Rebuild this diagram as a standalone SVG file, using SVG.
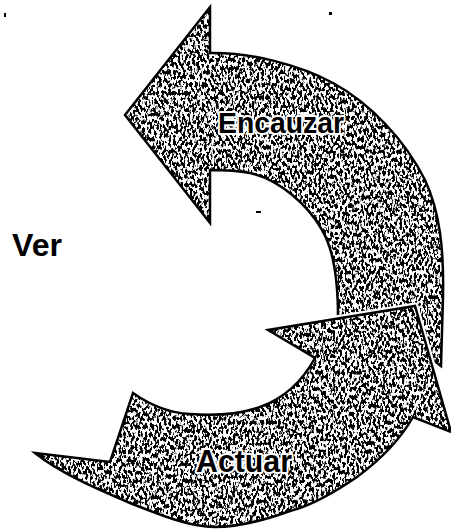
<svg xmlns="http://www.w3.org/2000/svg" width="451" height="530" viewBox="0 0 451 530">
<defs>
<filter id="spk" x="-5%" y="-5%" width="110%" height="110%" color-interpolation-filters="sRGB">
<feTurbulence type="fractalNoise" baseFrequency="0.42 0.24" numOctaves="2" seed="7" result="noise"/>
<feColorMatrix in="noise" type="matrix" values="0 0 0 0 1  0 0 0 0 1  0 0 0 0 1  14 0 0 0 -6.4" result="specks"/>
<feComposite in="specks" in2="SourceAlpha" operator="in" result="clipped"/>
<feMerge><feMergeNode in="SourceGraphic"/><feMergeNode in="clipped"/></feMerge>
</filter>
<style>
.fill{fill:#000;stroke:none}
.edge{fill:none;stroke:#000;stroke-width:2.5;stroke-linejoin:miter}
.halo{fill:none;stroke:#fff;stroke-width:7;stroke-linejoin:round}
.lbl{font-family:"Liberation Sans",Arial,sans-serif;font-weight:bold;fill:#000}
.onarrow{stroke:#fff;stroke-width:4;stroke-linejoin:round;paint-order:stroke}
</style>
<path id="pEnc" d="M125,115 L210,7 L210,53 C250,52 300,65 333,83 C370,103 405,140 425,180 C440,212 444,250 443,297 L441,366 L420,350 L338,330 L338,317 C338,285 334,250 322,230 C308,205 280,180 250,173 C235,170 222,170 210,170 L210,223 Z"/>
<path id="pAct" d="M35,453 L110,462 L133,393 C150,405 170,413 190,414 C215,416 240,414 260,407 C285,398 303,380 315,358 L268,330 L415,306 L451,432 L413,417 C400,440 380,460 357,477 C335,492 310,506 290,511 C265,520 240,527 215,527 C190,527 160,515 130,503 C95,488 60,473 35,453 Z"/>
</defs>
<rect width="451" height="530" fill="#fff"/>
<g id="connectors">
<g id="arrow-encauzar">
<use href="#pEnc" class="fill" filter="url(#spk)"/>
<use href="#pEnc" class="edge"/>
</g>
<g id="arrow-actuar">
<use href="#pAct" class="halo"/>
<use href="#pAct" class="fill" filter="url(#spk)"/>
<use href="#pAct" class="edge"/>
</g>
</g>
<g id="encauzar">
<text class="lbl onarrow" x="218" y="133" font-size="30" textLength="126" lengthAdjust="spacingAndGlyphs">Encauzar</text>
</g>
<g id="actuar">
<text class="lbl onarrow" x="196" y="472" font-size="31" textLength="96" lengthAdjust="spacingAndGlyphs">Actuar</text>
</g>
<g id="ver">
<text class="lbl" x="12" y="256" font-size="31" textLength="50" lengthAdjust="spacingAndGlyphs">Ver</text>
</g>
<g id="marks" fill="#000">
<rect x="4" y="13" width="2" height="4"/>
<rect x="329" y="12" width="3" height="3"/>
<rect x="256" y="211" width="5" height="2"/>
</g>
</svg>
